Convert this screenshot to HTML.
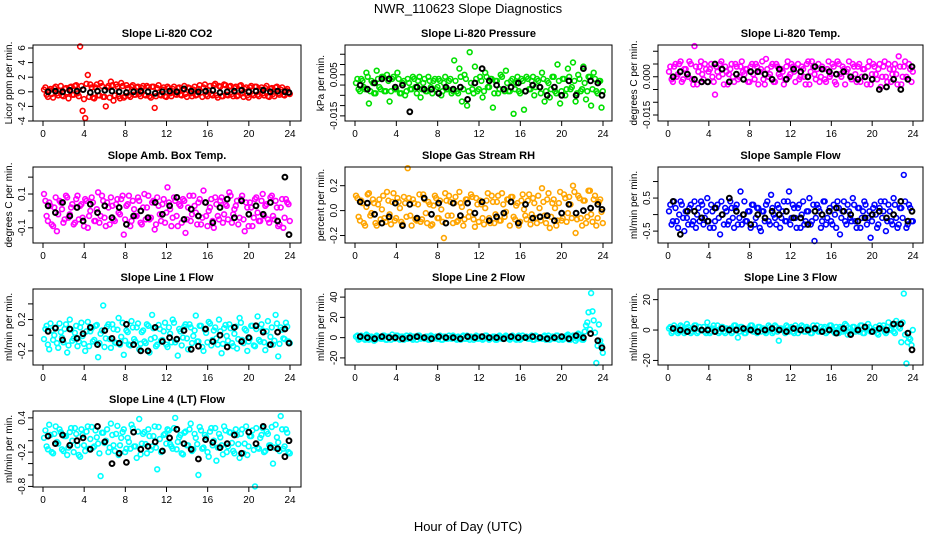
<!DOCTYPE html>
<html><head><meta charset="utf-8">
<style>
html,body{margin:0;padding:0;background:#fff;}
svg{display:block;font-family:"Liberation Sans",Arial,sans-serif;}
</style></head>
<body>
<svg id="chart" width="936" height="540" viewBox="0 0 936 540" xmlns="http://www.w3.org/2000/svg">
<rect x="0" y="0" width="936" height="540" fill="#fff"/>
<text x="468" y="13" font-size="13" text-anchor="middle">NWR_110623  Slope Diagnostics</text>
<text x="468" y="531" font-size="13" text-anchor="middle">Hour of Day (UTC)</text>
</svg>
<script>
const hours = [0.1,0.35,0.6,0.85,1.1,1.35,1.6,1.85,2.1,2.35,2.6,2.85,
3.1,3.35,3.6,3.85,4.1,4.35,4.6,4.85,5.1,5.35,5.6,5.85,
6.1,6.35,6.6,6.85,7.1,7.35,7.6,7.85,8.1,8.35,8.6,8.85,
9.1,9.35,9.6,9.85,10.1,10.35,10.6,10.85,11.1,11.35,11.6,11.85,
12.1,12.35,12.6,12.85,13.1,13.35,13.6,13.85,14.1,14.35,14.6,14.85,
15.1,15.35,15.6,15.85,16.1,16.35,16.6,16.85,17.1,17.35,17.6,17.85,
18.1,18.35,18.6,18.85,19.1,19.35,19.6,19.85,20.1,20.35,20.6,20.85,
21.1,21.35,21.6,21.85,22.1,22.35,22.6,22.85,23.1,23.35,23.6,23.85];
const hours2 = [0.23,0.48,0.73,0.98,1.23,1.48,1.73,1.98,2.23,2.48,2.73,2.98,
3.23,3.48,3.73,3.98,4.23,4.48,4.73,4.98,5.23,5.48,5.73,5.98,
6.23,6.48,6.73,6.98,7.23,7.48,7.73,7.98,8.23,8.48,8.73,8.98,
9.23,9.48,9.73,9.98,10.23,10.48,10.73,10.98,11.23,11.48,11.73,11.98,
12.23,12.48,12.73,12.98,13.23,13.48,13.73,13.98,14.23,14.48,14.73,14.98,
15.23,15.48,15.73,15.98,16.23,16.48,16.73,16.98,17.23,17.48,17.73,17.98,
18.23,18.48,18.73,18.98,19.23,19.48,19.73,19.98,20.23,20.48,20.73,20.98,
21.23,21.48,21.73,21.98,22.23,22.48,22.73,22.98,23.23,23.48,23.73,23.98];
const blackHours = [0.5,1.2,1.9,2.6,3.3,3.9,4.6,5.3,6.0,6.7,7.4,8.1,8.8,9.5,10.2,10.9,11.6,12.3,13.0,13.7,14.4,15.1,15.8,16.5,17.2,17.9,18.6,19.3,20.0,20.7,21.4,22.1,22.8,23.5,23.9];
const xTicks = [0,4,8,12,16,20,24];

const co2 = [3,-4,2,-3,5,-2,1,-5,4,-1,6,-4, 8,-2,62,-26,-36,23,10,-8,6,-5,12,-7, -20,8,14,-12,10,-6,12,-8,9,-5,7,-4, 6,-3,5,-4,8,-6,7,-22,5,-4,3,-6, 7,-2,4,-3,5,-4,2,-3,6,-2,3,-5, 4,-1,6,-4,2,-3,9,-5,8,-6,10,-4, 7,-3,5,-6,8,-2,4,-5,6,-3,7,-4, 3,-2,5,-6,4,-3,6,-2,3,-4,2,-1];
const co2B = [6,-7,4,-8,7,-5,8,-6,5,-9,7,-4, 9,-6,8,-10,11,-7,6,-9,10,-5,8,-7, 6,-8,9,-5,7,-9,8,-6,5,-7,9,-4, 7,-6,8,-5,6,-8,7,-6,9,-5,6,-7, 5,-6,7,-4,6,-5,8,-7,5,-6,7,-4, 9,-7,10,-6,8,-5,11,-8,7,-6,9,-5, 8,-6,7,-5,9,-7,6,-8,8,-5,7,-6, 6,-5,8,-7,5,-6,7,-4,6,-5,4,-3];
const co2Black = [0,1,0,2,1,3,-1,1,2,1,0,-1,0,1,0,-2,0,1,0,4,1,0,1,2,-1,0,1,2,0,1,2,0,1,0,-1];
const pres = [1,-2,3,-1,6,-9,2,-4,7,-1,4,-3, 5,-8,3,-2,6,-4,1,-5,3,-2,4,-1, 2,-6,1,-3,4,-1,2,-2,3,-5,1,-2, 2,-4,12,-3,8,-8,5,-10,16,-2,9,-3, 4,-6,6,-1,3,-11,2,-4,5,-2,7,-3, 2,-14,1,-3,3,-12,4,-2,2,-5,3,-1, 6,-8,2,-6,4,-3,10,-9,3,-5,8,-2, 11,-8,5,-3,9,-7,4,-10,6,-3,2,-11];
const presB = [3,-3,2,-2,4,-3,1,-4,3,-2,4,-3, 2,-3,4,-2,3,-4,2,-3,1,-2,3,-4, 4,-2,3,-3,2,-4,3,-1,2,-3,4,-2, 3,-3,2,-4,4,-2,3,-3,1,-4,3,-2, 2,-3,4,-1,3,-4,2,-2,4,-3,1,-3, 3,-2,4,-4,2,-3,3,-2,4,-1,2,-4, 3,-3,1,-2,4,-4,2,-3,3,-2,4,-1, 2,-4,3,-2,1,-3,4,-2,3,-4,2,-3];
const presBlack = [0,-2,1,3,3,-1,0,-13,-1,-2,-2,-4,-1,-2,-1,-7,1,8,2,0,-2,-1,1,-3,0,-1,-5,-1,-5,2,-5,8,2,1,-5];
const temp = [2,-1,4,0,5,-2,3,1,6,-1,12,-3, 4,1,5,-2,3,0,-7,2,5,1,4,-3, 3,0,5,-1,4,2,3,-2,4,1,5,-3, 3,-1,7,0,4,-2,5,1,3,-3,4,0, 5,2,3,-1,4,0,5,-3,6,1,3,-2, 4,-1,3,0,5,-2,6,1,4,-3,3,0, 5,1,4,-2,3,0,4,-3,5,1,3,-4, 4,0,5,-2,3,1,8,-3,4,0,5,-2];
const tempB = [4,-2,5,1,6,-1,3,0,5,-3,4,2, 6,-1,3,2,5,-2,4,0,6,-3,2,1, 5,-2,4,0,6,1,3,-2,5,-1,4,2, 6,-3,3,1,5,-2,4,0,2,-1,6,1, 4,-2,5,0,3,-3,6,2,4,-1,5,0, 3,-2,6,1,4,-3,5,0,3,2,6,-1, 4,-2,5,0,3,-3,6,1,4,-1,5,0, 6,-2,3,1,5,-3,4,0,6,-1,3,2];
const tempBlack = [0,2,1,-1,-2,-2,5,3,-2,1,-1,2,2,1,-1,3,-1,3,2,0,4,3,2,1,2,0,-1,0,-1,-5,-4,-1,-5,-1,4];
const amb = [10,-3,5,-8,2,-12,6,1,-5,8,-2,4, -7,9,3,-4,7,-10,0,5,-6,11,-3,6, -9,2,8,-5,4,-1,7,-14,3,9,-6,1, -3,6,-8,10,2,-5,5,-11,8,-2,4,-7, 14,1,-4,6,-9,3,7,-13,2,-6,9,-1, 5,-8,12,-3,0,7,-10,4,-5,8,-2,3, 11,-7,1,6,-4,9,-12,2,5,-9,7,-1, -6,10,3,-5,8,-3,6,-9,2,-10,7,4];
const ambB = [6,-6,3,-9,8,-2,5,-7,9,-4,2,-8, 7,-5,4,-9,6,-3,8,-6,1,-7,9,-4, 5,-8,3,-6,7,-2,9,-5,4,-9,6,-3, 8,-7,2,-5,9,-4,6,-8,3,-6,7,-1, 5,-9,8,-3,4,-7,6,-5,9,-2,3,-8, 7,-4,5,-9,2,-6,8,-3,6,-7,4,-5, 9,-2,3,-8,7,-5,5,-9,2,-4,8,-6, 6,-3,4,-7,9,-5,2,-8,7,-4,5,-6];
const ambBlack = [3,-1,5,-3,2,-6,4,-1,3,-4,2,-8,-3,0,-4,5,-2,3,8,-5,1,-3,5,-7,2,7,-4,6,-2,3,-2,5,-6,20,-14];
const rh = [12,-5,8,-10,3,14,-2,6,-12,9,1,-6, 15,-3,7,-8,10,2,-11,6,34,-4,9,-7, 5,-9,13,-2,7,-12,4,10,-6,1,-22,8, 12,-4,6,-9,15,3,-7,9,-1,11,-13,5, 8,-6,2,14,-10,7,-3,12,-8,5,-1,9, 11,-5,4,-12,8,1,-7,13,-3,6,-10,2, 18,-4,9,-14,6,2,-8,15,-6,10,-2,5, 20,-18,12,-6,8,-10,16,-3,9,-12,7,-1];
const rhB = [10,-8,6,-12,13,-4,9,-10,5,-7,12,-9, 8,-11,14,-6,7,-9,11,-5,10,-12,6,-8, 13,-7,9,-10,5,-11,12,-6,8,-9,14,-4, 7,-10,11,-8,6,-12,9,-5,13,-7,10,-9, 5,-11,8,-6,12,-10,7,-8,14,-5,9,-12, 11,-7,6,-9,13,-4,8,-11,10,-6,12,-8, 7,-10,14,-5,9,-12,6,-8,13,-9,11,-6, 15,-7,10,-12,8,-5,16,-9,12,-6,9,-10];
const rhBlack = [7,6,-3,-10,-5,6,-12,5,-6,10,-3,6,-10,6,-4,6,-2,7,-8,-5,-2,7,-10,5,-6,-5,-4,-8,-2,5,-2,0,2,5,1];
const sflow = [1,-3,4,-2,0,3,-5,-1,2,-3,4,0, -2,3,-1,5,-4,1,-2,3,-6,0,2,-3, 4,-1,2,-3,7,0,-2,1,-4,3,-1,2, -5,1,3,-2,6,0,-3,2,-1,4,-2,7, -1,2,-4,3,0,-3,1,5,-2,-8,3,1, -2,4,-1,2,-3,0,4,-6,1,-2,3,-1, 5,-2,2,-4,1,3,-1,-7,2,0,-3,4, 1,-5,3,-2,5,-1,-3,2,12,-4,3,-2];
const sflowB = [3,-2,2,-4,4,-1,1,-3,3,-2,-4,2, 4,-3,1,-2,3,-4,2,-1,4,-3,1,-2, 2,-4,3,-1,-3,4,-2,1,3,-3,2,-4, 1,-2,4,-3,2,-1,3,-4,1,-2,4,-3, 3,-1,2,-4,4,-2,1,-3,3,-1,2,-4, 4,-3,1,-2,3,-4,2,-1,4,-3,1,-2, 3,-4,2,-1,4,-3,1,-2,3,-4,2,-1, 4,-2,1,-3,3,-4,2,-1,4,-3,2,-2];
const sflowBlack = [4,-6,1,1,-1,-2,2,0,5,1,0,-3,0,-1,1,0,1,-1,-1,-3,1,0,1,2,1,0,-2,-1,0,1,-1,0,4,-2,1];
const line1 = [-5,12,-18,6,0,-10,15,-3,8,-22,20,-7, 3,-14,10,-1,-20,17,5,-8,12,-28,2,38, -4,14,-16,8,-10,22,-2,-25,6,-12,18,-5, 10,-18,4,-8,14,-22,26,-3,-12,8,-6,16, -15,2,20,-9,-26,5,-3,14,-18,10,-1,25, -8,12,-20,3,17,-13,6,-4,20,-23,9,-1, 14,-10,2,-17,22,-6,8,-20,-4,12,-14,24, -8,6,-19,18,-2,-12,26,-27,10,-4,16,-8];
const line1B = [8,-12,15,-6,10,-16,4,-9,14,-13,7,-4, 12,-8,16,-11,5,-14,9,-6,13,-10,6,-15, 11,-5,14,-9,7,-12,16,-7,4,-13,10,-8, 15,-11,6,-10,12,-5,9,-14,13,-7,5,-12, 10,-9,16,-6,8,-13,11,-4,14,-10,6,-8, 12,-15,7,-9,15,-6,10,-12,5,-11,13,-7, 9,-14,11,-5,16,-10,6,-8,12,-13,8,-6, 14,-9,5,-12,10,-7,15,-11,7,-5,11,-10];
const line1Black = [5,9,-6,8,-4,2,10,-12,6,-4,-10,14,-12,-20,-20,10,-8,-3,-5,6,-18,-14,8,-8,0,-15,10,-8,-3,12,4,-12,4,8,-10];
const line2 = [1,-2,2,-1,3,-2,1,-3,2,0,-1,2, -2,1,3,-1,2,-2,1,0,-1,2,-2,1, 2,-1,0,1,-2,2,-1,1,0,-2,1,-1, 2,-1,1,-2,0,1,-1,2,-2,0,1,-1, 1,-2,2,0,-1,1,-2,1,0,-1,2,-1, 0,1,-2,2,-1,0,1,-1,2,-2,1,0, -1,2,0,-2,1,-1,2,0,-2,1,3,-2, 2,-3,4,1,-2,12,25,44,17,-25,13,-8];
const line2B = [2,-1,1,-2,2,-1,0,-2,1,-1,2,-2, 1,-2,0,2,-1,1,-2,2,0,-1,1,-2, 2,0,-1,1,-2,1,0,-1,2,-2,1,-1, 0,2,-1,1,-2,2,-1,0,1,-2,2,-1, 1,-1,2,-2,0,1,-2,2,-1,1,0,-2, 2,-1,1,-2,2,0,-1,1,-2,2,-1,0, 1,-2,2,-1,0,2,-2,1,-1,2,-2,1, 0,-1,3,-2,6,15,8,26,5,-8,-3,-15];
const line2Black = [1,0,-1,1,0,0,-1,0,1,0,-1,1,0,0,-1,1,0,1,0,0,-1,1,0,0,1,0,-1,0,1,-1,2,0,4,-3,-10];
const line3 = [1,-2,3,0,-1,2,-2,4,0,-1,3,-2, 2,0,-1,5,-2,1,0,3,-1,2,-2,0, 1,-1,3,-5,2,0,-2,1,3,-1,0,2, -1,1,-2,3,0,-1,2,-7,1,0,3,-1, 2,-2,1,0,3,-1,2,0,-2,1,3,-1, 0,2,-1,3,1,-2,0,2,-1,4,-3,1, 2,-1,0,3,-2,1,4,-1,0,2,-3,1, 3,-2,5,1,-1,6,2,-8,24,-22,-5,-10];
const line3B = [2,-1,1,-2,3,0,-1,2,-2,1,3,-1, 0,2,-2,1,-1,3,0,-2,2,-1,1,0, -2,3,1,-1,2,-2,0,1,3,-1,-2,2, 1,-1,0,2,-2,3,-1,1,0,-2,2,1, -1,3,-2,0,2,-1,1,-2,3,0,-1,2, 1,-2,0,3,-1,2,-2,1,0,3,-1,-2, 2,0,-1,3,-2,1,2,-1,0,-2,3,1, -1,2,0,3,-2,4,1,5,-3,-8,-6,0];
const line3Black = [1,0,-1,1,0,0,-1,1,0,0,1,0,-1,0,1,0,-1,1,0,0,1,-1,0,-2,1,-3,0,2,-1,1,0,4,4,-2,-13];
const line4 = [5,-10,28,-20,12,-2,20,-15,8,-25,15,0, 22,-8,-28,10,-18,25,3,-12,18,-5,-62,14, 0,-20,30,-8,12,-25,5,20,-14,-2,28,-10, -30,38,-5,15,-22,8,-10,25,-50,3,-18,12, 20,-6,-14,40,-2,10,-24,16,-8,30,-15,5, -60,18,-12,6,-28,22,0,-35,12,-8,25,-20, 15,-4,-22,10,-30,20,-5,-25,8,18,-80,-12, 5,22,-18,12,-8,-40,28,-3,43,-14,20,-20];
const line4B = [18,-15,10,-22,25,-5,15,-18,8,-12,22,-20, 12,-25,20,-8,16,-14,24,-10,6,-22,14,-4, 20,-12,10,-18,26,-8,15,-20,5,-14,22,-10, 16,-24,12,-6,20,-16,8,-12,24,-20,10,-5, 18,-10,22,-15,6,-22,14,-8,20,-18,12,-6, 24,-14,10,-20,16,-8,22,-12,6,-24,18,-10, 14,-18,20,-6,12,-22,25,-10,8,-16,22,-14, 10,-20,16,-8,24,-12,6,-18,20,-10,14,-22];
const line4Black = [8,-5,10,-8,0,5,-15,25,-2,-40,-22,-38,15,-15,-10,-2,-18,5,20,-5,-15,-32,2,-3,-12,-5,10,-22,15,-5,25,-12,-14,-28,0];

const panels = [
 {id:'co2',title:'Slope Li-820 CO2',ylab:'Licor ppm per min.',r:0,c:0,ylim:[-4.0,6.41],k:0.1,ticks:[-4,-2,0,2,4,6],labs:['-4','-2','0','2','4','6'],col:'#ff0000',v:co2,v2:co2B,b:co2Black},
 {id:'pressure',title:'Slope Li-820 Pressure',ylab:'kPa per min.',r:0,c:1,ylim:[-0.0175,0.0195],k:0.001,ticks:[-0.015,-0.01,-0.005,0,0.005,0.01,0.015],labs:['-0.015','','','','0.005','',''],col:'#00e000',v:pres,v2:presB,b:presBlack},
 {id:'temp',title:'Slope Li-820 Temp.',ylab:'degrees C per min.',r:0,c:2,ylim:[-0.01735,0.01245],k:0.001,ticks:[-0.015,-0.01,-0.005,0,0.005,0.01],labs:['-0.015','','','0.000','',''],col:'#ff00ff',v:temp,v2:tempB,b:tempBlack},
 {id:'amb-box',title:'Slope Amb. Box Temp.',ylab:'degrees C per min.',r:1,c:0,ylim:[-0.19,0.26],k:0.01,ticks:[-0.1,0,0.1,0.2],labs:['-0.1','','0.1',''],col:'#ff00ff',v:amb,v2:ambB,b:ambBlack},
 {id:'rh',title:'Slope Gas Stream RH',ylab:'percent per min.',r:1,c:1,ylim:[-0.26,0.35],k:0.01,ticks:[-0.2,0,0.2],labs:['-0.2','0.0','0.2'],col:'#ffa500',v:rh,v2:rhB,b:rhBlack},
 {id:'sample-flow',title:'Slope Sample Flow',ylab:'ml/min per min.',r:1,c:2,ylim:[-0.86,1.44],k:0.1,ticks:[-0.5,0,0.5,1.0],labs:['-0.5','','0.5',''],col:'#0000ff',v:sflow,v2:sflowB,b:sflowBlack},
 {id:'line1',title:'Slope Line 1 Flow',ylab:'ml/min per min.',r:2,c:0,ylim:[-0.38,0.59],k:0.01,ticks:[-0.2,0,0.2,0.4],labs:['-0.2','','0.2',''],col:'#00ffff',v:line1,v2:line1B,b:line1Black},
 {id:'line2',title:'Slope Line 2 Flow',ylab:'ml/min per min.',r:2,c:1,ylim:[-27,48],k:1,ticks:[-20,0,20,40],labs:['-20','0','20','40'],col:'#00ffff',v:line2,v2:line2B,b:line2Black},
 {id:'line3',title:'Slope Line 3 Flow',ylab:'ml/min per min.',r:2,c:2,ylim:[-23,27],k:1,ticks:[-20,0,20],labs:['-20','0','20'],col:'#00ffff',v:line3,v2:line3B,b:line3Black},
 {id:'line4',title:'Slope Line 4 (LT) Flow',ylab:'ml/min per min.',r:3,c:0,ylim:[-0.81,0.52],k:0.01,ticks:[-0.8,-0.6,-0.4,-0.2,0,0.2,0.4],labs:['-0.8','','','-0.2','','','0.4'],col:'#00ffff',v:line4,v2:line4B,b:line4Black}
];

const NS='http://www.w3.org/2000/svg';
const svg=document.getElementById('chart');
const rowTop=[45,167,289,411], boxH=76;
const colL=[33,345,658], colR=[301,612,923], x0=[43,355,668], x24=[290,603,913];
function mk(tag,attrs,parent){const e=document.createElementNS(NS,tag);for(const a in attrs)e.setAttribute(a,attrs[a]);(parent||svg).appendChild(e);return e;}

panels.forEach(p=>{
  const T=rowTop[p.r], B=T+boxH, L=colL[p.c], R=colR[p.c];
  const xs=h=>x0[p.c]+(x24[p.c]-x0[p.c])*h/24;
  const ys=v=>B-(v-p.ylim[0])/(p.ylim[1]-p.ylim[0])*boxH;
  const g=mk('g',{});
  
  
  const t=mk('text',{x:(L+R)/2,y:T-8,'font-size':11,'font-weight':'bold','text-anchor':'middle'},g);
  t.textContent=p.title;
  
  
  const yl=mk('text',{x:0,y:0,'font-size':10,'text-anchor':'middle',transform:`translate(${L-21},${(T+B)/2}) rotate(-90)`},g);
  yl.textContent=p.ylab;
  
  
  const pts=mk('g',{fill:'none',stroke:p.col,'stroke-width':1.6},g);
  
  
  p.v2.forEach((v,i)=>{
    if(i>=hours2.length)return;
    const c=mk('circle',{cx:xs(hours2[i]).toFixed(1),cy:ys(v*p.k).toFixed(1),r:2.4},pts);
    
    
  });
  p.v.forEach((v,i)=>{
    if(i>=hours.length)return;
    const c=mk('circle',{cx:xs(hours[i]).toFixed(1),cy:ys(v*p.k).toFixed(1),r:2.4},pts);
    
    
  });
  const bp=mk('g',{fill:'none',stroke:'#000','stroke-width':2},g);
  
  
  p.b.forEach((v,i)=>{
    if(i>=blackHours.length)return;
    const c=mk('circle',{cx:xs(blackHours[i]).toFixed(1),cy:ys(v*p.k).toFixed(1),r:2.4},bp);
    
    
  });
  const box=mk('rect',{x:L,y:T,width:R-L,height:boxH,fill:'none',stroke:'#000','stroke-width':1},g);
  
  
  p.ticks.forEach((tv,i)=>{
    const y=ys(tv);
    if(y<T-0.5||y>B+0.5)return;
    mk('line',{x1:L,x2:L-5,y1:y,y2:y,stroke:'#000'},g);
    if(p.labs[i]){
      const tl=mk('text',{x:0,y:0,'font-size':10,'text-anchor':'middle',transform:`translate(${L-8},${y}) rotate(-90)`},g);
      tl.textContent=p.labs[i];
      
      
    }
  });
  xTicks.forEach(h=>{
    const x=xs(h);
    mk('line',{x1:x,x2:x,y1:B,y2:B+5,stroke:'#000'},g);
    const tl=mk('text',{x:x,y:B+16,'font-size':10,'text-anchor':'middle'},g);
    tl.textContent=String(h);
    
    
  });
});
</script>
</body></html>
